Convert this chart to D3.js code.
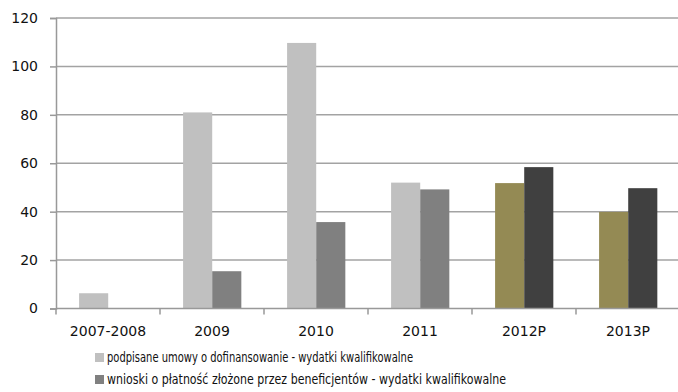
<!DOCTYPE html>
<html>
<head>
<meta charset="utf-8">
<script src="https://cdn.jsdelivr.net/npm/d3@7"></script>
<style>
  html, body { margin: 0; padding: 0; background: #fff; }
  svg { display: block; }
  text { font-family: "DejaVu Sans", sans-serif; fill: #111; font-weight: normal; }
</style>
</head>
<body>
<svg id="chart" width="678" height="392"></svg>
<script>
// Categories (years; "P" = forecast)
const categories = ["2007-2008", "2009", "2010", "2011", "2012P", "2013P"];
const projected = [false, false, false, false, true, true];

// Series values (mln)
const signedContracts = [6.3, 81.0, 109.7, 52.0, 51.8, 39.9];
const paymentClaims = [null, 15.4, 35.7, 49.2, 58.4, 49.7];

const seriesNames = [
  "podpisane umowy o dofinansowanie - wydatki kwalifikowalne",
  "wnioski o płatność złożone przez beneficjentów - wydatki kwalifikowalne"
];

const yTicks = [0, 20, 40, 60, 80, 100, 120];

// Colours: actual vs. forecast bars
const colorsActual = ["#c0c0c0", "#808080"];
const colorsProjected = ["#948a54", "#404040"];

const svg = d3.select("#chart");
const plot = { left: 56, right: 680, top: 18, bottom: 308.5 };

const x0 = d3.scaleBand().domain(categories).range([plot.left, plot.right]).padding(0);
const bw = x0.bandwidth();
const x1 = d3.scaleBand().domain([0, 1]).range([bw * 0.222, bw * 0.782]).padding(0);
const y = d3.scaleLinear().domain([0, 120]).range([plot.bottom, plot.top]);

// Horizontal gridlines
svg.append("g")
  .selectAll("line")
  .data(yTicks.filter(d => d > 0))
  .join("line")
  .attr("x1", plot.left).attr("x2", 678)
  .attr("y1", d => y(d)).attr("y2", d => y(d))
  .attr("stroke", "#a3a3a3").attr("stroke-width", 1.5);

// Bars
const rows = categories.map((c, i) => ({
  cat: c,
  vals: [signedContracts[i], paymentClaims[i]],
  proj: projected[i]
}));

const groups = svg.append("g")
  .selectAll("g")
  .data(rows)
  .join("g")
  .attr("transform", d => `translate(${x0(d.cat)},0)`);

groups.selectAll("rect")
  .data(d => d.vals.map((v, s) => ({ v, s, proj: d.proj })).filter(e => e.v != null))
  .join("rect")
  .attr("x", d => x1(d.s))
  .attr("width", x1.bandwidth())
  .attr("y", d => y(d.v))
  .attr("height", d => y(0) - y(d.v))
  .attr("fill", d => (d.proj ? colorsProjected : colorsActual)[d.s]);

// Y axis
const yAxis = svg.append("g")
  .attr("transform", `translate(${plot.left},0)`)
  .call(d3.axisLeft(y).tickValues(yTicks).tickSize(6).tickPadding(12).tickFormat(d3.format("d")));
yAxis.select(".domain").attr("stroke", "#999").attr("stroke-width", 1.5);
yAxis.selectAll(".tick line").attr("stroke", "#999").attr("stroke-width", 1.5);
yAxis.selectAll(".tick text").attr("font-size", 14).attr("font-family", "DejaVu Sans").attr("fill", "#111");

// X axis baseline, boundary ticks and labels
const xg = svg.append("g");
xg.append("line")
  .attr("x1", plot.left).attr("x2", 678)
  .attr("y1", y(0)).attr("y2", y(0))
  .attr("stroke", "#999").attr("stroke-width", 1.5);
xg.selectAll("line.b")
  .data(categories.map(c => x0(c)).concat([x0(categories[categories.length - 1]) + bw]))
  .join("line")
  .attr("class", "b")
  .attr("x1", d => d).attr("x2", d => d)
  .attr("y1", y(0)).attr("y2", y(0) + 6)
  .attr("stroke", "#999").attr("stroke-width", 1.5);
xg.selectAll("text")
  .data(categories)
  .join("text")
  .attr("x", d => x0(d) + bw / 2)
  .attr("y", 336)
  .attr("text-anchor", "middle")
  .attr("font-size", 14)
  .text(d => d);

// Legend
const legend = svg.append("g");
const legendRows = [
  { name: seriesNames[0], color: colorsActual[0], y: 362, len: 306 },
  { name: seriesNames[1], color: colorsActual[1], y: 384, len: 399 }
];
legendRows.forEach(r => {
  legend.append("rect")
    .attr("x", 95).attr("y", r.y - 9).attr("width", 9).attr("height", 9)
    .attr("fill", r.color);
  legend.append("text")
    .attr("x", 107).attr("y", r.y)
    .attr("font-size", 14)
    .attr("textLength", r.len)
    .attr("lengthAdjust", "spacingAndGlyphs")
    .text(r.name);
});
</script>
</body>
</html>
